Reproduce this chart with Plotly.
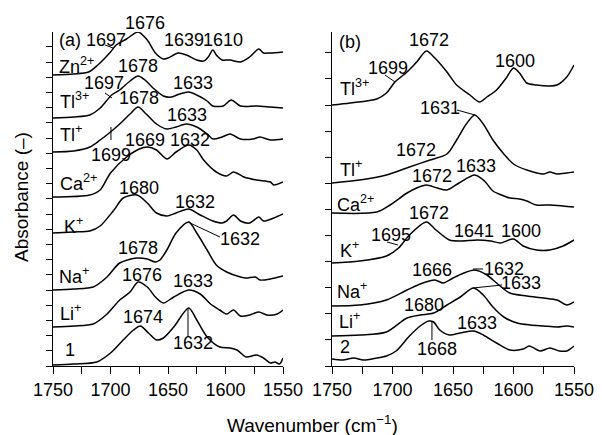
import plotly.graph_objects as go

# ---------------- data (panel a) ----------------
zn_wn = [1750,1732,1719,1711,1700,1695,1686,1676,1668,1661,1654,1650,1641,1634,1625,1619,1615,1611,1608,1603,1596,1587,1579,1571,1567,1561,1550]
zn_a = [0,1,3,10,23,30,36,43,35,22,16,17,22,20,15,14,18,25,20,15,15,13,18,26,22,22,23]

tl3_wn = [1750,1732,1718,1709,1699,1692,1683,1676,1670,1663,1654,1647,1640,1632,1625,1616,1611,1602,1595,1587,1573,1561,1550]
tl3_a = [0,1,3,10,23,28,37,42,38,30,22,21,24,26,23,17,12,12,18,12,12,11,10]

tl1_wn = [1750,1732,1718,1709,1700,1692,1683,1676,1669,1660,1651,1643,1634,1625,1616,1611,1603,1596,1587,1576,1570,1561,1550]
tl1_a = [0,1,5,12,20,28,38,45,38,28,23,25,28,25,18,13,15,18,13,13,15,12,13]

ca_wn = [1750,1718,1709,1700,1686,1675,1668,1660,1651,1643,1632,1625,1619,1608,1599,1593,1584,1573,1561,1558,1550]
ca_a = [0,2,7,24,40,48,50,47,38,45,52,47,37,25,21,25,20,17,15,12,15]

k_wn = [1750,1732,1718,1709,1697,1689,1677,1668,1660,1651,1643,1632,1622,1611,1603,1599,1593,1587,1579,1571,1567,1558,1550]
k_a = [0,1,2,7,23,35,38,30,20,17,20,24,18,12,10,12,18,12,10,16,12,15,19]

na_wn = [1750,1732,1715,1703,1692,1677,1668,1661,1657,1651,1643,1632,1625,1616,1608,1599,1587,1582,1574,1570,1561,1550]
na_a = [0,1,3,13,27,32,31,28,30,40,57,68,57,40,25,18,13,12,13,10,11,14]

li_wn = [1750,1732,1715,1703,1692,1683,1676,1668,1661,1654,1645,1632,1622,1613,1605,1599,1593,1587,1579,1571,1564,1555,1550]
li_a = [0,1,3,13,27,35,45,40,30,24,30,37,33,23,17,13,17,11,12,15,12,13,17]

c1_wn = [1750,1732,1712,1700,1689,1680,1674,1667,1660,1654,1645,1632,1625,1616,1605,1596,1590,1582,1573,1567,1561,1557,1553,1550]
c1_a = [0,1,3,12,25,35,39,32,25,27,38,57,45,28,18,17,15,8,10,7,2,3,1,7]

names_a = ["Zn<sup>2+</sup>", "Tl<sup>3+</sup>", "Tl<sup>+</sup>", "Ca<sup>2+</sup>", "K<sup>+</sup>", "Na<sup>+</sup>", "Li<sup>+</sup>", "1"]
offsets_a = [291, 248, 214, 169, 133, 76, 39, 1]

# ---------------- data (panel b) ----------------
btl3_wn = [1750,1735,1713,1705,1698,1688,1680,1672,1665,1655,1647,1636,1628,1622,1614,1606,1600,1595,1589,1581,1570,1564,1556,1550]
btl3_a = [0,2,6,12,23,33,43,54,47,33,20,10,3,8,15,27,37,32,22,20,19,20,28,40]

btl1_wn = [1750,1727,1705,1686,1669,1655,1647,1639,1632,1625,1617,1608,1600,1589,1575,1570,1564,1556,1550]
btl1_a = [0,3,8,16,23,29,43,59,68,59,43,29,19,13,9,11,9,10,11]

bca_wn = [1750,1713,1702,1688,1680,1672,1663,1655,1645,1632,1624,1617,1610,1603,1595,1589,1581,1570,1559,1550]
bca_a = [0,1,8,20,25,28,25,23,30,38,32,22,18,15,14,12,8,8,7,6]

bk_wn = [1750,1727,1705,1695,1686,1672,1664,1653,1644,1630,1619,1611,1600,1592,1581,1570,1559,1550]
bk_a = [0,2,7,15,28,41,33,23,22,23,22,20,24,17,13,13,17,23]

bna_wn = [1750,1727,1705,1688,1675,1665,1658,1650,1641,1632,1622,1614,1603,1589,1575,1564,1556,1550]
bna_a = [0,1,6,16,23,26,23,28,33,36,31,23,13,10,8,6,1,4]

bli_wn = [1750,1727,1705,1688,1677,1666,1655,1644,1633,1625,1617,1608,1597,1586,1575,1564,1556,1550]
bli_a = [0,1,4,18,21,23,31,39,48,41,29,19,13,11,10,9,10,9]

b2_wn = [1750,1741,1732,1724,1713,1705,1697,1686,1676,1670,1666,1661,1653,1644,1633,1625,1614,1603,1592,1587,1578,1570,1562,1556,1550]
b2_a = [0,-1,1,-1,1,3,8,23,34,38,37,29,24,26,28,24,16,9,10,13,8,11,8,8,13]

names_b = ["Tl<sup>3+</sup>", "Tl<sup>+</sup>", "Ca<sup>2+</sup>", "K<sup>+</sup>", "Na<sup>+</sup>", "Li<sup>+</sup>", "2"]
offsets_b = [261, 183, 153, 103, 60, 30, 7]

# peak labels: (text, wavenumber position, height position)
peaks_a = [("1697",1704,326),("1639",1636,326),("1610",1602,326),
           ("1678",1676,300),("1697",1706,283),("1633",1628,283),
           ("1678",1675,268),("1633",1633.5,251),("1699",1700,211),
           ("1669",1670,226),("1632",1631,226),
           ("1680",1675,178),("1632",1626.5,164),
           ("1632",1587,127),("1678",1676,118),
           ("1676",1672.6,91),("1633",1628,85),
           ("1674",1671.7,49),("1632",1628,23)]
top_label_a = ("1676", 1670, 343)   # sits above the top of the axis
leaders_a = [(1704.8,321,1697.8,318),(1704.8,273,1698.7,268),(1699.6,239,1699.6,226),
             (1632.6,144,1604.8,129),(1632.6,58,1632.6,29)]

peaks_b = [("1672",1670,326),("1699",1703.7,298),("1600",1599,305),
           ("1631",1660.7,258),("1672",1680.6,216),
           ("1633",1631,200),("1672",1667.4,190),
           ("1672",1670,153),("1695",1701.2,131),("1641",1632.6,135),("1600",1593.8,135),
           ("1666",1667.4,96),("1632",1607.9,97),
           ("1633",1593.8,83),("1680",1674,61),
           ("1633",1630.2,43),("1668",1663.2,17)]
leaders_b = [(1706.2,291,1697.9,284),(1646.7,256,1631.8,251),(1704.5,124,1695.5,121),
             (1633.5,97,1625.2,97),(1633.5,78,1609.5,81),(1667.4,44,1667.4,26)]

spectra_a = [(zn_wn, zn_a), (tl3_wn, tl3_a), (tl1_wn, tl1_a), (ca_wn, ca_a),
             (k_wn, k_a), (na_wn, na_a), (li_wn, li_a), (c1_wn, c1_a)]
spectra_b = [(btl3_wn, btl3_a), (btl1_wn, btl1_a), (bca_wn, bca_a), (bk_wn, bk_a),
             (bna_wn, bna_a), (bli_wn, bli_a), (b2_wn, b2_a)]

Y_MAX = 334
FONT = "Liberation Sans, Arial, sans-serif"
fig = go.Figure()

for (wn, a), off in zip(spectra_a, offsets_a):
    fig.add_trace(go.Scatter(x=wn, y=[v + off for v in a], mode="lines",
                             line=dict(color="black", width=1.5, shape="spline", smoothing=0.8),
                             xaxis="x", yaxis="y", showlegend=False, hoverinfo="skip", cliponaxis=False))
for (wn, a), off in zip(spectra_b, offsets_b):
    fig.add_trace(go.Scatter(x=wn, y=[v + off for v in a], mode="lines",
                             line=dict(color="black", width=1.5, shape="spline", smoothing=0.8),
                             xaxis="x2", yaxis="y2", showlegend=False, hoverinfo="skip", cliponaxis=False))

ann = []
def label(text, x, y, xr, yr, xanchor="center", size=18):
    ann.append(dict(text=text, x=x, y=y, xref=xr, yref=yr, showarrow=False,
                    xanchor=xanchor, yanchor="middle", font=dict(family=FONT, size=size, color="black")))

for t, x, y in peaks_a:
    label(t, x, y, "x", "y")
for t, x, y in peaks_b:
    label(t, x, y, "x2", "y2")
label(top_label_a[0], top_label_a[1], top_label_a[2] / Y_MAX, "x", "y domain")

ion_pos_a = [(1746.5,301),(1745.7,266),(1745.7,233),(1745.7,184),(1742.2,141),(1746.5,91),(1745.7,54),(1741.3,16)]
for n, (x, y) in zip(names_a, ion_pos_a):
    label(n, x, y, "x", "y", xanchor="left")
ion_pos_b = [(1745,279),(1745,198),(1747.5,163),(1745,117),(1747.5,76),(1745.9,46),(1745,19)]
for n, (x, y) in zip(names_b, ion_pos_b):
    label(n, x, y, "x2", "y2", xanchor="left")

label("(a)", 1735.2, 326, "x", "y")
label("(b)", 1735.1, 324, "x2", "y2")

# page body adds an 8 px offset; layout positions below compensate for it
OFF = 8
W, H = 602, 435
def px(x):
    return (x - OFF) / W
def py(y):
    return 1 - (y - OFF) / H

ann.append(dict(text="Absorbance (–)", x=px(21), y=py(197), xref="paper", yref="paper",
                showarrow=False, textangle=-90, xanchor="center", yanchor="middle",
                font=dict(family=FONT, size=19, color="black")))
ann.append(dict(text="Wavenumber (cm<sup>−1</sup>)", x=px(312), y=py(424), xref="paper", yref="paper",
                showarrow=False, xanchor="center", yanchor="middle",
                font=dict(family=FONT, size=19, color="black")))

shapes = []
for x0, y0, x1, y1 in leaders_a:
    shapes.append(dict(type="line", x0=x0, y0=y0, x1=x1, y1=y1, xref="x", yref="y",
                       line=dict(color="black", width=1)))
for x0, y0, x1, y1 in leaders_b:
    shapes.append(dict(type="line", x0=x0, y0=y0, x1=x1, y1=y1, xref="x2", yref="y2",
                       line=dict(color="black", width=1)))

xax = dict(range=[1750, 1550], showline=True, linecolor="black", linewidth=1.3,
           ticks="outside", ticklen=7, tickwidth=1.2, tickcolor="black", dtick=50, tick0=1750,
           minor=dict(dtick=25, ticks="outside", ticklen=7, tickwidth=1.2, tickcolor="black"),
           showgrid=False, zeroline=False, tickfont=dict(family=FONT, size=18, color="black"),
           ticklabelstandoff=0, automargin=False)
yax = dict(range=[0, Y_MAX], showline=True, linecolor="black", linewidth=1.3,
           ticks="outside", ticklen=6, tickwidth=1.2, tickcolor="black",
           showticklabels=False, showgrid=False, zeroline=False, automargin=False,
           domain=[py(366), py(32)])

fig.update_layout(
    template="none",
    width=W, height=H, margin=dict(l=0, r=0, t=0, b=0, pad=0, autoexpand=False),
    paper_bgcolor="white", plot_bgcolor="white",
    xaxis=dict(xax, domain=[px(53), px(283)], anchor="y"),
    xaxis2=dict(xax, domain=[px(332), px(574)], anchor="y2"),
    yaxis=dict(yax, dtick=15.2, tick0=0, anchor="x"),
    yaxis2=dict(yax, dtick=26.1, tick0=0, anchor="x2"),
    annotations=ann, shapes=shapes,
)

fig.write_html("out.html")
